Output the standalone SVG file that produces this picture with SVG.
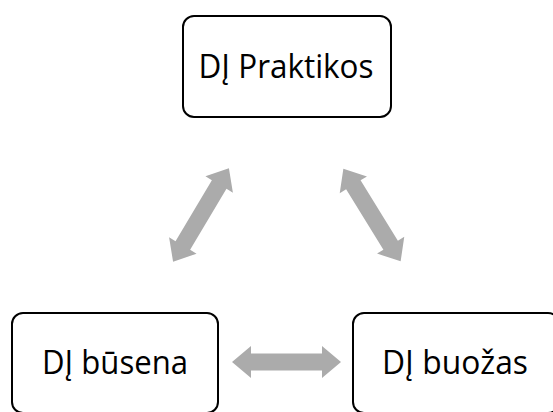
<svg xmlns="http://www.w3.org/2000/svg" width="553" height="412" viewBox="0 0 553 412">
<style>
.box{fill:#fff;stroke:#000;stroke-width:2}
.lbl{font-family:"Open Sans","Noto Sans","Liberation Sans",sans-serif;font-size:32px;fill:#000;text-anchor:middle}
.arr{fill:#ABABAB}
</style>
<defs>
<polygon id="dbl" points="-54.5,0 -35.5,-16 -35.5,-8.5 35.5,-8.5 35.5,-16 54.5,0 35.5,16 35.5,8.5 -35.5,8.5 -35.5,16"/>
</defs>
<rect width="553" height="412" fill="#fff"/>
<g id="connectors">
<use href="#dbl" class="arr" transform="translate(201,215) rotate(-59.2)"/>
<use href="#dbl" class="arr" transform="translate(372,215) rotate(58.3)"/>
<use href="#dbl" class="arr" transform="translate(286.5,362)"/>
</g>
<g id="node-praktikos">
<rect class="box" x="183" y="16" width="208" height="101" rx="11"/>
<text class="lbl" x="286" y="78" textLength="175" lengthAdjust="spacingAndGlyphs">DĮ Praktikos</text>
</g>
<g id="node-busena">
<rect class="box" x="12" y="313" width="206" height="100" rx="11"/>
<text class="lbl" x="115" y="374" textLength="146" lengthAdjust="spacingAndGlyphs">DĮ būsena</text>
</g>
<g id="node-buozas">
<rect class="box" x="353" y="313" width="206" height="100" rx="11"/>
<text class="lbl" x="455" y="374" textLength="146" lengthAdjust="spacingAndGlyphs">DĮ buožas</text>
</g>
</svg>
